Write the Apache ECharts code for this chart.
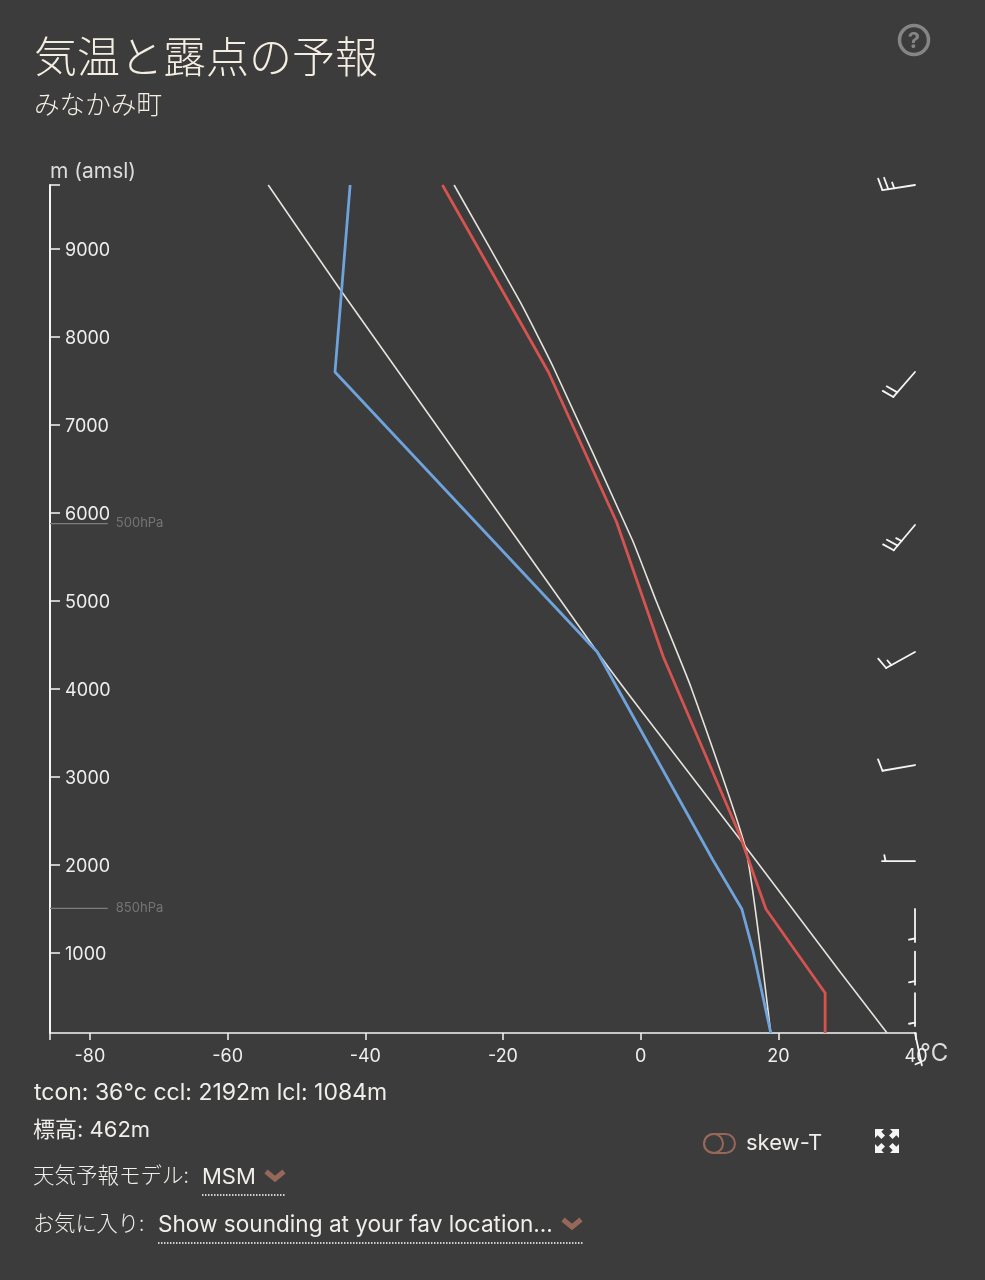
<!DOCTYPE html>
<html><head><meta charset="utf-8">
<style>html,body{margin:0;padding:0;background:#3c3c3c}#c{width:985px;height:1280px}</style>
<script src="https://cdn.jsdelivr.net/npm/echarts@6/dist/echarts.min.js"></script>
</head><body><div id="c"></div>
<script>
const xTicks = [-80,-60,-40,-20,0,20,40];
const yTicks = [1000,2000,3000,4000,5000,6000,7000,8000,9000];
const xMin = -85.8, xMax = 40, yMin = 91, yMax = 9727;
const temperature = [[26.8,91],[26.8,545],[18.2,1500],[14.4,2341],[3.3,4364],[-3.5,5898],[-13.4,7602],[-17.5,8170],[-28.8,9727]];
const dewpoint = [[18.9,91],[16.3,1034],[14.7,1500],[10.5,2057],[-6.3,4420],[-44.4,7602],[-42.2,9727]];
const parcel = [[18.9,91],[15.3,2171],[7.3,4023],[2.2,5011],[-1.2,5693],[-12.7,7659],[-17.5,8398],[-27.1,9727]];
const dryAdiabat = [[35.8,91],[29.1,773],[14.5,2284],[0,3761],[-6.3,4421],[-43.6,8534],[-54.1,9727]];
const pressureLevels = [[1507,'850hPa'],[5880,'500hPa']];
const pressureEndT = -77.4;
// height m, direction deg, speed kt
const winds = [[91,168,5],[545,180,5],[1015,180,5],[1500,180,5],[2045,270,5],[3136,260,10],[4420,241,15],[5864,220,25],[7602,221,20],[9727,261,25]];

const SANS = 'Inter, "Noto Sans CJK JP", sans-serif';
const CJK = '"Noto Sans CJK JP", Inter, sans-serif';
const INK = '#f0eeea', CREAM = '#f4eee2', ACC = '#96685a';

function barb(params, api) {
  const c = api.coord([xMax, api.value(0)]);
  const p = [c[0] - 1, c[1]];
  const a = api.value(1) * Math.PI / 180, kt = api.value(2);
  const sx = Math.sin(a), sy = -Math.cos(a), px = -sy, py = sx;
  const L = 33, F = 12, S = 6;
  const tip = [p[0] + sx * L, p[1] + sy * L];
  const seg = (x1,y1,x2,y2) => ({type:'line',shape:{x1,y1,x2,y2},style:{stroke:'#f5f5f5',lineWidth:1.8,lineCap:'round'}});
  const kids = [seg(p[0],p[1],tip[0],tip[1])];
  let off = 0, n = kt;
  if (kt < 10) off = 3.5;
  while (n >= 5) {
    const len = n >= 10 ? F : S;
    const bx = tip[0] - sx * off, by = tip[1] - sy * off;
    kids.push(seg(bx,by,bx + px*len + sx*len*0.2,by + py*len + sy*len*0.2));
    n -= n >= 10 ? 10 : 5; off += 6;
  }
  return {type:'group',children:kids,silent:true};
}
const line = (data,color,width,smooth) => ({type:'line',data,symbol:'none',smooth:smooth||false,silent:true,clip:true,lineStyle:{color,width},z:3});
const txt = (text,x,y,size,fill,font,weight) => ({type:'text',x,y,style:{text,fill:fill||INK,fontSize:size,fontFamily:font||SANS,fontWeight:weight||'normal',verticalAlign:'middle'}});
const chevron = (cx,cy) => ({type:'polyline',shape:{points:[[cx-9,cy-4.5],[cx,cy+3],[cx+9,cy-4.5]]},style:{stroke:ACC,lineWidth:5,fill:null}});
const dots = (x1,x2,y) => ({type:'line',shape:{x1,y1:y,x2,y2:y},style:{stroke:'#ffffff',lineWidth:1.5,lineDash:[1.5,1.5]}});
const arrow = (cx,cy,dx,dy) => ({type:'polygon',shape:{points:[[cx,cy],[cx+dx*9,cy],[cx+dx*6.3,cy+dy*2.7],[cx+dx*10,cy+dy*6.4],[cx+dx*6.4,cy+dy*10],[cx+dx*2.7,cy+dy*6.3],[cx,cy+dy*9]]},style:{fill:'#f5f5f5'}});

const chart = echarts.init(document.getElementById('c'));
chart.setOption({
  backgroundColor:'#3c3c3c', animation:false,
  grid:{left:50,right:69,top:185,bottom:247,containLabel:false},
  xAxis:{type:'value',min:xMin,max:xMax,splitLine:{show:false},name:'°C',nameLocation:'end',nameGap:4,nameMoveOverlap:false,
    nameTextStyle:{color:'#dcdcdc',fontSize:24,fontFamily:SANS,verticalAlign:'top',padding:[9,0,0,0]},
    axisLine:{onZero:false,lineStyle:{color:'#f5f5f5',width:1.5}},
    axisTick:{length:7,lineStyle:{color:'#f5f5f5',width:1.5},customValues:[xMin,...xTicks]},
    axisLabel:{color:'#eeeeee',fontSize:18,fontFamily:SANS,margin:15,customValues:xTicks,hideOverlap:false,showMinLabel:true,showMaxLabel:true}},
  yAxis:{type:'value',min:yMin,max:yMax,splitLine:{show:false},name:'m (amsl)',nameLocation:'end',nameGap:3,nameMoveOverlap:false,
    nameTextStyle:{color:'#dcdcdc',fontSize:21,fontFamily:SANS,align:'left'},
    axisLine:{onZero:false,lineStyle:{color:'#f5f5f5',width:2}},
    axisTick:{inside:true,length:10,lineStyle:{color:'#f5f5f5',width:1.5},customValues:[...yTicks,yMax]},
    axisLabel:{inside:true,margin:15,customValues:yTicks,formatter:v => '{a|' + v + '}',
      rich:{a:{color:'#eeeeee',fontSize:18,fontFamily:SANS,padding:[4,0,0,0]}}}},
  series:[
    line(dryAdiabat,'#e6e3dc',1.6,0.15),
    line(parcel,'#e6e3dc',1.6,0.15),
    line(temperature,'#d6534f',2.8),
    line(dewpoint,'#6fa3dc',2.8),
    ...pressureLevels.map(l => ({type:'line',symbol:'none',silent:true,data:[[xMin,l[0]],[pressureEndT,l[0]]],lineStyle:{color:'#7d7d7d',width:1.2},
      endLabel:{show:true,formatter:l[1],color:'#757575',fontSize:13,fontFamily:SANS,distance:8}})),
    {type:'custom',data:winds,renderItem:barb,clip:false,silent:true,z:4,encode:{y:0}}
  ],
  graphic:{elements:[
    txt('気温と露点の予報',34,57,43,CREAM,CJK,300),
    txt('みなかみ町',34,104,25.6,CREAM,CJK,300),
    {type:'circle',shape:{cx:914,cy:40,r:14.5},style:{stroke:'#858585',lineWidth:3.5,fill:null}},
    {type:'text',x:914,y:41,style:{text:'?',fill:'#858585',fontSize:22,fontWeight:'bold',fontFamily:SANS,align:'center',verticalAlign:'middle'}},
    txt('tcon: 36°c ccl: 2192m lcl: 1084m',34,1093,23),
    txt('標高: 462m',33,1130,22),
    txt('天気予報モデル:',33,1175,21.5,INK,CJK,300),
    txt('MSM',202,1177,22),
    chevron(275,1176), dots(202,286,1195),
    txt('お気に入り:',33,1223,21.2,INK,CJK,300),
    txt('Show sounding at your fav location...',158,1225,22.6),
    chevron(572,1224), dots(158,584,1243),
    {type:'rect',shape:{x:704,y:1134,width:31,height:19,r:9.5},style:{stroke:ACC,lineWidth:2,fill:null}},
    {type:'circle',shape:{cx:713.5,cy:1143.5,r:9.5},style:{stroke:ACC,lineWidth:2,fill:null}},
    txt('skew-T',746,1143,22),
    arrow(875,1129,1,1),arrow(899,1129,-1,1),arrow(875,1153,1,-1),arrow(899,1153,-1,-1)
  ]}
});
</script></body></html>
